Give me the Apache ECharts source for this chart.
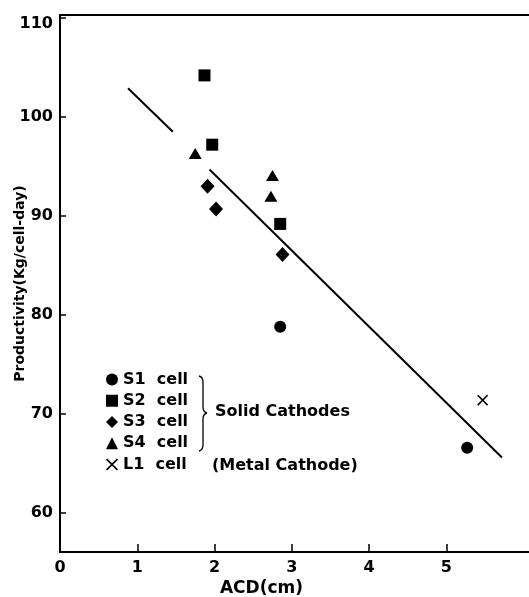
<!DOCTYPE html>
<html>
<head>
<meta charset="utf-8">
<script src="https://cdn.jsdelivr.net/npm/echarts@6/dist/echarts.min.js"></script>
<style>
  html, body { margin: 0; padding: 0; background: #fff; }
  #chart { width: 529px; height: 597px; }
</style>
</head>
<body>
<div id="chart"></div>
<script>
// Cell productivity against anode-cathode distance (ACD)
const s1Cell = [[2.85, 78.8], [5.27, 66.6]];
const s2Cell = [[1.87, 104.2], [1.97, 97.2], [2.85, 89.2]];
const s3Cell = [[1.91, 93.0], [2.02, 90.7], [2.88, 86.1]];
const s4Cell = [[1.75, 96.3], [2.75, 94.1], [2.73, 92.0]];
const l1Cell = [[5.47, 71.4]];

// Fitted trend line, drawn in two pieces
const trendUpper = [[0.88, 102.9], [1.46, 98.5]];
const trendLower = [[1.935, 94.7], [5.72, 65.6]];

const xTicks = [0, 1, 2, 3, 4, 5];
const yTicks = [60, 70, 80, 90, 100, 110];

const FONT = 'DejaVu Sans';
const INK = '#000';
const crossPath = 'path://M0,1L1,0L5,4L9,0L10,1L6,5L10,9L9,10L5,6L1,10L0,9L4,5Z';
const labelFont = { fontFamily: FONT, fontWeight: 'bold', fontSize: 16, color: INK };

const chart = echarts.init(document.getElementById('chart'), null, { renderer: 'canvas' });

function scatter(name, data, symbol, size) {
  return {
    type: 'scatter',
    name: name,
    data: data,
    symbol: symbol,
    symbolSize: size,
    itemStyle: { color: INK, opacity: 1 },
    z: 3
  };
}

// Curly brace grouping the solid-cathode cells
const braceStyle = { fill: null, stroke: INK, lineWidth: 1.3 };
function curve(x1, y1, cx, cy, x2, y2) {
  return { type: 'bezierCurve', shape: { x1: x1, y1: y1, cpx1: cx, cpy1: cy, x2: x2, y2: y2 }, style: braceStyle };
}
function seg(x1, y1, x2, y2) {
  return { type: 'line', shape: { x1: x1, y1: y1, x2: x2, y2: y2 }, style: braceStyle };
}
const brace = [
  curve(199, 376, 203, 377, 203, 382),
  seg(203, 382, 203, 407),
  curve(203, 407, 203, 412, 207, 413),
  curve(207, 413, 203, 414, 203, 419),
  seg(203, 419, 203, 445),
  curve(203, 445, 203, 450, 199, 451)
];

chart.setOption({
  animation: false,
  backgroundColor: '#fff',
  grid: {
    left: 60, top: 15, right: 0, bottom: 45,
    containLabel: false,
    outerBoundsMode: 'none'
  },
  xAxis: [
    {
      type: 'value',
      min: 0, max: 6.07,
      name: 'ACD(cm)',
      nameLocation: 'middle',
      nameGap: 28,
      nameMoveOverlap: false,
      nameTextStyle: { fontFamily: FONT, fontWeight: 'bold', fontSize: 17, color: INK, padding: [0, 66, 0, 0] },
      axisLine: { lineStyle: { color: INK, width: 2 } },
      axisTick: { inside: true, length: 8, customValues: xTicks, lineStyle: { color: INK, width: 1.5 } },
      axisLabel: Object.assign({ customValues: xTicks, margin: 8 }, labelFont),
      splitLine: { show: false }
    },
    {
      // frame line along the top of the plot
      type: 'value',
      position: 'top',
      min: 0, max: 6.07,
      axisLine: { show: true, lineStyle: { color: INK, width: 1.8 } },
      axisTick: { show: false },
      axisLabel: { show: false },
      splitLine: { show: false }
    }
  ],
  yAxis: {
    type: 'value',
    min: 56.06, max: 110.3,
    name: 'Productivity(Kg/cell-day)',
    nameLocation: 'middle',
    nameGap: 33,
    nameMoveOverlap: false,
    nameTextStyle: { fontFamily: FONT, fontWeight: 'bold', fontSize: 14, color: INK },
    axisLine: { lineStyle: { color: INK, width: 2 } },
    axisTick: { inside: true, length: 6, customValues: yTicks, lineStyle: { color: INK, width: 1.5 } },
    axisLabel: Object.assign({
      customValues: yTicks,
      margin: 7,
      formatter: function (v) { return v === 110 ? '{top|110}' : String(v); },
      rich: { top: Object.assign({ padding: [12, 0, 0, 0] }, labelFont) }
    }, labelFont),
    splitLine: { show: false }
  },
  legend: {
    orient: 'vertical',
    left: 101,
    top: 366,
    itemWidth: 12,
    itemHeight: 12,
    itemGap: 4.25,
    data: ['S1 cell', 'S2 cell', 'S3 cell', 'S4 cell', 'L1 cell'],
    formatter: function (n) { return n.replace(' ', '  '); },
    textStyle: { fontFamily: FONT, fontWeight: 'bold', fontSize: 16, lineHeight: 17, color: INK },
    selectedMode: false
  },
  graphic: brace.concat([
    {
      type: 'text',
      left: 215, top: 404,
      style: { text: 'Solid Cathodes', fontFamily: FONT, fontWeight: 'bold', fontSize: 16, fill: INK }
    },
    {
      type: 'text',
      left: 212, top: 458,
      style: { text: '(Metal Cathode)', fontFamily: FONT, fontWeight: 'bold', fontSize: 16, fill: INK }
    }
  ]),
  series: [
    scatter('S1 cell', s1Cell, 'circle', 12),
    scatter('S2 cell', s2Cell, 'rect', 12),
    scatter('S3 cell', s3Cell, 'diamond', [14, 15]),
    scatter('S4 cell', s4Cell, 'triangle', [13, 11]),
    scatter('L1 cell', l1Cell, crossPath, 11),
    {
      type: 'line',
      name: 'trend',
      data: trendUpper.concat(['-'], trendLower),
      showSymbol: false,
      symbol: 'none',
      connectNulls: false,
      lineStyle: { color: INK, width: 2 },
      z: 2
    }
  ]
});
</script>
</body>
</html>
